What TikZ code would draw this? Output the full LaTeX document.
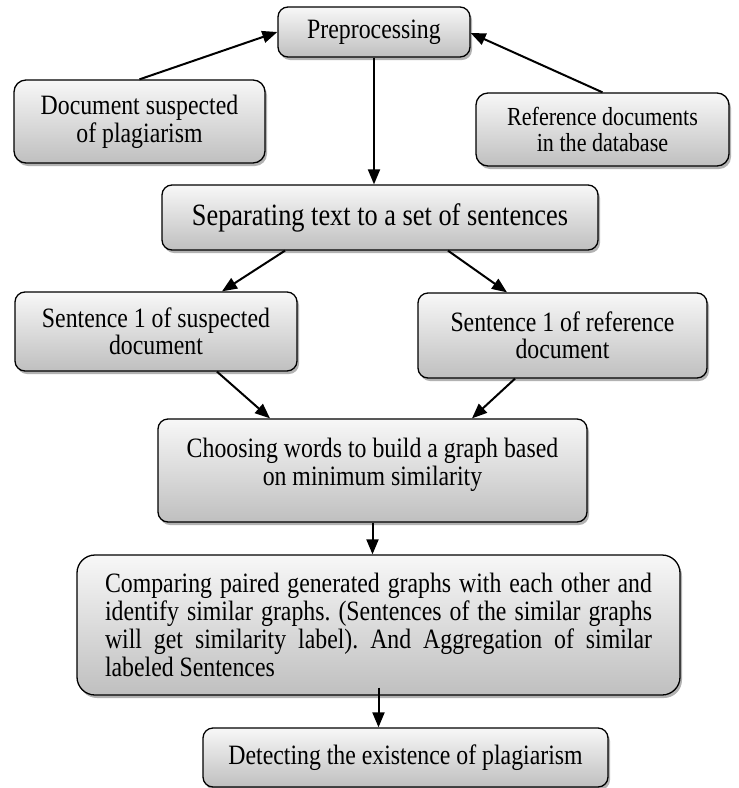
\documentclass[tikz,border=0pt]{standalone}
\usepackage{fontspec}
\setmainfont{Liberation Serif}[FakeStretch=0.85]
\usetikzlibrary{arrows.meta,shadows,calc}
\frenchspacing

\tikzset{
  box/.style={draw=black, line width=1.3pt, rounded corners=10pt,
    top color=black!3, bottom color=black!25,
    drop shadow={shadow xshift=2pt, shadow yshift=-3pt, opacity=0.3, fill=black},
    inner sep=0pt, align=center},
  arr/.style={line width=2pt, -{Triangle[length=15pt,width=12pt]}},
  fa/.style={font=\fontsize{28}{28}\selectfont},
  fs/.style={font=\fontsize{28}{26.5}\selectfont},
  fr/.style={font=\fontsize{26}{26}\selectfont},
  fb/.style={font=\fontsize{31}{31}\selectfont},
}

\begin{document}
\begin{tikzpicture}
\useasboundingbox (0,0) rectangle (739pt,-788pt);

\node[box, fa, minimum width=192pt, minimum height=50pt] (pre) at (374pt,-32pt) {Preprocessing};
\node[box, fa, minimum width=251pt, minimum height=83pt, rounded corners=12pt] (doc) at (139.5pt,-121.5pt) {Document suspected\\of plagiarism};
\node[box, fr, minimum width=253pt, minimum height=73pt, rounded corners=12pt] (ref) at (602.5pt,-129.5pt) {Reference documents\\in the database};
\node[box, fb, minimum width=436pt, minimum height=65pt] (sep) at (380pt,-217.5pt) {Separating text to a set of sentences};
\node[box, fs, minimum width=282pt, minimum height=79pt] (s1) at (156pt,-331.5pt) {Sentence 1 of suspected\\document};
\node[box, fs, minimum width=289pt, minimum height=85pt] (s2) at (562.5pt,-335.5pt) {Sentence 1 of reference\\document};
\node[box, fa, minimum width=429pt, minimum height=103pt, text depth=18pt] (cho) at (372.5pt,-470.5pt) {Choosing words to build a graph based\\on minimum similarity};
\node[box, fa, minimum width=603pt, minimum height=140pt, rounded corners=18pt, text width=547pt, align=justify] (cmp) at (378.5pt,-625pt)
  {\hyphenpenalty=10000 Comparing paired generated graphs with each other and\linebreak identify similar graphs. (Sentences of the similar graphs\linebreak will get similarity label). And Aggregation of similar\linebreak labeled Sentences};
\node[box, fa, minimum width=405pt, minimum height=59pt] (det) at (405.5pt,-757.5pt) {Detecting the existence of plagiarism};

\draw[arr] (doc.north) -- (pre.west);
\draw[arr] (ref.north) -- ([yshift=-1pt]pre.east);
\draw[arr] (pre.south) -- (pre.south |- sep.north);
\draw[arr] ([xshift=-95pt]sep.south) -- ([xshift=66pt]s1.north);
\draw[arr] ([xshift=68pt]sep.south) -- ([xshift=-55.5pt]s2.north);
\draw[arr] ([xshift=61pt]s1.south) -- ([xshift=-102.5pt]cho.north);
\draw[arr] ([xshift=-47.5pt]s2.south) -- ([xshift=99.5pt]cho.north);
\draw[arr] (cho.south) -- (cho.south |- cmp.north);
\draw[arr] ([yshift=8pt]cmp.south) -- (cmp.south |- det.north);
\end{tikzpicture}
\end{document}
